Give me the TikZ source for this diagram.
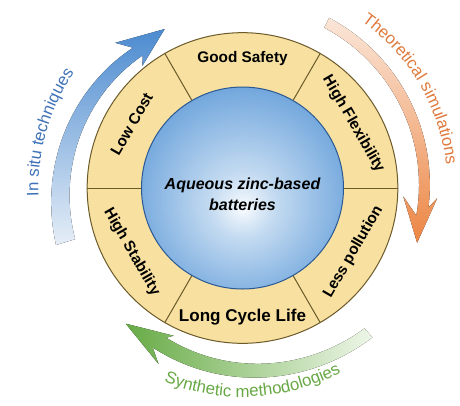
\documentclass[tikz,border=0pt]{standalone}
\usepackage{fontspec}
\setmainfont{Liberation Sans}
\usetikzlibrary{decorations.text}

\definecolor{ringfill}{HTML}{F7E0A0}
\definecolor{ringline}{HTML}{6B5A2A}
\definecolor{coreline}{HTML}{2A5894}
\definecolor{coreA}{HTML}{F8FBFE}
\definecolor{coreB}{HTML}{C4DBF1}
\definecolor{coreC}{HTML}{6FA5DC}
\definecolor{coreD}{HTML}{3270BA}
\definecolor{situtext}{HTML}{3F72B8}
\definecolor{situhead}{HTML}{4C8BD0}
\definecolor{situtail}{HTML}{E6EEF7}
\definecolor{theotext}{HTML}{E07A3C}
\definecolor{theohead}{HTML}{EC8644}
\definecolor{theotail}{HTML}{FBE6D8}
\definecolor{synthtext}{HTML}{67A844}
\definecolor{synthhead}{HTML}{67AB45}
\definecolor{synthtail}{HTML}{EEF6E8}

\pgfdeclareradialshading{coreshade}{\pgfpoint{0bp}{-5bp}}{color(0bp)=(coreA); color(8bp)=(coreB); color(28bp)=(coreC); color(50bp)=(coreD)}

\newcommand\bandfont{\fontsize{12.6}{15}\selectfont}

\begin{document}
\begin{tikzpicture}[x=0.75pt, y=0.75pt,
		ringtext/.style={font=\bfseries\fontsize{11.5}{13}\selectfont, inner sep=0pt},
		divider/.style={draw=ringline, line width=0.75pt}]
			\useasboundingbox (-242.5,-217) rectangle (217.5,188);

			\fill[top color=situhead, bottom color=situtail] plot[domain=197:128, samples=30] (\x:{195-17*(197-\x)/69}) -- (131.2:193) -- (116.1:177) -- (129.3:158) -- (127:166) -- plot[domain=127:197, samples=30] (\x:{166+9*(\x-127)/70}) -- cycle;
			\fill[top color=theotail, bottom color=theohead] plot[domain=63:-6, samples=30] (\x:{187+4*(\x+6)/69}) -- (-3:195) -- (-17.4:183) -- (-3:161) -- (-9:176) -- plot[domain=-9:63, samples=30] (\x:{176+4*(\x+9)/72}) -- cycle;
			\fill[left color=synthhead, right color=synthtail] plot[domain=311:240.6, samples=30] (\x:{183+15*(\x-240.6)/70.4}) -- (244.5:195) -- (229.3:179) -- (245:163) -- (243:168) -- plot[domain=243:311, samples=30] (\x:{168+18*(\x-243)/68}) -- cycle;

			\path[decorate, decoration={text along path, text align=center, text={|\bandfont\color{situtext}|In situ techniques}}] (203.9:204) arc[start angle=203.9, end angle=123.9, radius=204];
			\path[decorate, decoration={text along path, text align=center, text={|\bandfont\color{theotext}|Theoretical simulations}}] (70.5:205) arc[start angle=70.5, end angle=-9.5, radius=205];
			\path[decorate, decoration={text along path, text align=center, text={|\bandfont\color{synthtext}|Synthetic methodologies}}] (233:209) arc[start angle=233, end angle=313, radius=209];

			\node[circle, draw=ringline, fill=ringfill, line width=0.75pt, minimum size=233pt, inner sep=0pt] (ring) at (0,0) {};
			\node[circle, draw=coreline, line width=0.75pt, shade, shading=coreshade, minimum size=151.5pt, inner sep=0pt] (core) at (0,0) {};
			\node[font=\bfseries\itshape\fontsize{12}{16}\selectfont, align=center] (title) at (0,-6) {Aqueous zinc-based\\batteries};

			\draw[divider] (core.0) -- (ring.0);
			\draw[divider] (core.60) -- (ring.60);
			\draw[divider] (core.120) -- (ring.120);
			\draw[divider] (core.180) -- (ring.180);
			\draw[divider] (core.240) -- (ring.240);
			\draw[divider] (core.300) -- (ring.300);

			\node[ringtext] (safety) at (90:129) {Good Safety};
			\node[ringtext, rotate=-60] (flex) at (30:128) {High Flexibility};
			\node[ringtext, rotate=60] (pollution) at (-30:128) {Less pollution};
			\node[ringtext, font=\bfseries\fontsize{12.8}{14}\selectfont] (life) at (-90:129) {Long Cycle Life};
			\node[ringtext, rotate=-60] (stability) at (210:128) {High Stability};
			\node[ringtext, rotate=60] (cost) at (150:128) {Low Cost};
		\end{tikzpicture}
\end{document}
